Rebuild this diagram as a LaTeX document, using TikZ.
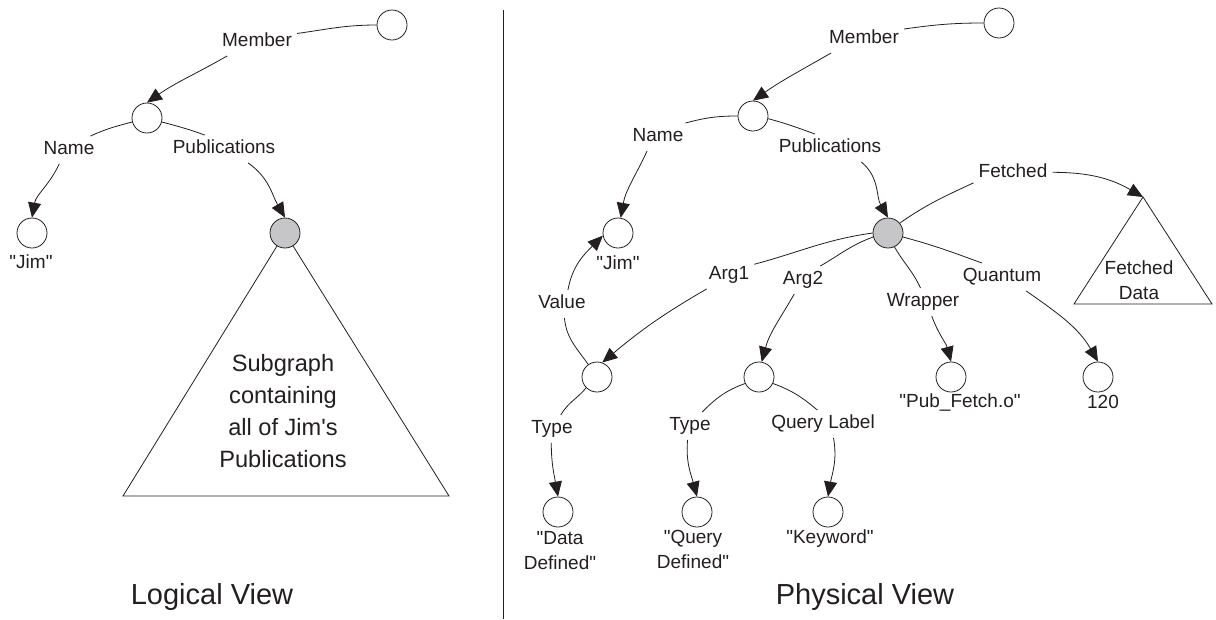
\documentclass[tikz,border=0pt]{standalone}
\usepackage{fontspec}
\newfontfamily\labfont{Liberation Sans}
\usetikzlibrary{arrows.meta}
\definecolor{ink}{RGB}{35,31,32}
\definecolor{shade}{RGB}{198,198,200}
\begin{document}
\begin{tikzpicture}[x=1pt,y=1pt,
  every node/.style={text=ink},
  vertex/.style={circle,draw=ink,line width=0.8pt,minimum size=30pt,inner sep=0pt,fill=white},
  hub/.style={vertex,fill=shade},
  lbl/.style={font=\labfont\fontsize{19}{22}\selectfont,inner sep=5pt,text height=13.5pt,text depth=4pt},
  val/.style={font=\labfont\fontsize{19}{25}\selectfont,align=center,inner sep=0pt},
  big/.style={font=\labfont\fontsize{23.6}{32}\selectfont,align=center,inner sep=0pt},
  title/.style={font=\labfont\fontsize{29}{34}\selectfont,inner sep=0pt},
  wire/.style={draw=ink,line width=0.8pt},
  arr/.style={wire,-{Triangle[length=15pt,width=13pt]}},
]
\useasboundingbox[fill=white] (0,-619) rectangle (1216,0);

% divider between the two views
\coordinate (divTop) at (503,-10);
\coordinate (divBot) at (503,-619);
\draw[wire] (divTop) -- (divBot);

% ---------------- logical view ----------------
\coordinate (subTop) at (285,-233);
\draw[wire,line join=miter] (subTop) -- (123,-496) -- (449,-496) -- cycle;
\node[big] (subtxt) at (283,-411) {Subgraph\\containing\\all of Jim's\\Publications};

\node[vertex] (rootL) at (392,-25) {};
\node[vertex] (midL) at (147,-118) {};
\node[vertex] (jimL) at (32,-233) {};
\node[hub] (grayL) at (285,-233) {};

\node[lbl] (memL) at (257,-42) {Member};
\node[lbl] (nameL) at (69,-150) {Name};
\node[lbl] (pubL) at (224,-149) {Publications};
\node[val] (jimLt) at (31,-262) {"Jim"};

\draw[wire] (rootL.west) to[out=180,in=8] (memL.12);
\draw[arr] (memL.205) to[out=210,in=35] (midL.north);
\draw[wire] (midL.195) to[out=195,in=25] (nameL.33);
\draw[arr] (nameL.235) to[out=245,in=80] (jimL.north);
\draw[wire] (midL.-15) to[out=-15,in=160] (pubL.144);
\draw[arr] (pubL.-30) to[out=-35,in=120] (grayL.north);

\node[title] (logt) at (212,-597) {Logical View};

% ---------------- physical view ----------------
\coordinate (fapex) at (1143,-197);
\draw[wire,line join=miter] (fapex) -- (1074,-304) -- (1212,-304) -- cycle;
\node[val] (fettxt) at (1139,-280) {Fetched\\Data};

\node[vertex] (rootR) at (999,-23) {};
\node[vertex] (midR) at (753,-116) {};
\node[vertex] (jimR) at (618,-233) {};
\node[hub] (grayR) at (888,-233) {};
\node[vertex] (a1n) at (597,-377) {};
\node[vertex] (a2n) at (759,-377) {};
\node[vertex] (pubN) at (951,-377) {};
\node[vertex] (numN) at (1098,-377) {};
\node[vertex] (dataN) at (558,-512) {};
\node[vertex] (qdN) at (697,-512) {};
\node[vertex] (kwN) at (828,-512) {};

\node[lbl] (memR) at (864,-39) {Member};
\node[lbl] (nameR) at (658,-137) {Name};
\node[lbl] (pubR) at (830,-148) {Publications};
\node[lbl] (fetL) at (1013,-173) {Fetched};
\node[lbl] (a1L) at (729,-275) {Arg1};
\node[lbl] (a2L) at (803,-280) {Arg2};
\node[lbl] (wrL) at (923,-302) {Wrapper};
\node[lbl] (quL) at (1002,-277) {Quantum};
\node[lbl] (vaL) at (562,-304) {Value};
\node[lbl] (ty1L) at (552,-429) {Type};
\node[lbl] (ty2L) at (690,-426) {Type};
\node[lbl] (qlL) at (823,-424) {Query Label};

\node[val] (jimRt) at (618,-263) {"Jim"};
\node[val] (datat) at (560,-551) {"Data\\Defined"};
\node[val] (qdt) at (693,-549) {"Query\\Defined"};
\node[val] (kwt) at (830,-539) {"Keyword"};
\node[val] (pubt) at (960,-402) {"Pub\_Fetch.o"};
\node[val] (numt) at (1103,-402) {120};

\draw[wire] (rootR.west) to[out=180,in=8] (memR.14);
\draw[arr] (memR.203) to[out=210,in=35] (midR.north);
\draw[wire] (midR.west) to[out=180,in=15] (nameR.27);
\draw[arr] (nameR.232) to[out=245,in=80] (jimR.80);
\draw[wire] (midR.-10) to[out=-15,in=160] (pubR.137);
\draw[arr] (pubR.-24) to[out=-40,in=120] (grayR.north);

\draw[wire] (grayR.40) to[out=35,in=205] (fetL.194);
\draw[arr] (fetL.1) to[out=0,in=150] (fapex);
\draw[wire] (grayR.-15) to[out=-15,in=160] (quL.145);
\draw[arr] (quL.-30) to[out=-35,in=120] (numN.north);
\draw[wire] (grayR.-65) to[out=-60,in=115] (wrL.100);
\draw[arr] (wrL.-58) to[out=-70,in=105] (pubN.north);
\draw[wire] (grayR.180) to[out=188,in=15] (a1L.23);
\draw[arr] (a1L.212) to[out=210,in=40] (a1n.70);
\draw[wire] (grayR.195) to[out=200,in=30] (a2L.39);
\draw[arr] (a2L.238) to[out=240,in=75] (a2n.80);

\draw[wire] (a1n.125) to[out=125,in=-85] (vaL.-80);
\draw[arr] (vaL.67) to[out=80,in=225] (jimR.190);
\draw[wire] (a1n.225) to[out=230,in=60] (ty1L.58);
\draw[arr] (ty1L.-93) to[out=-90,in=100] (dataN.north);
\draw[wire] (a2n.205) to[out=200,in=45] (ty2L.49);
\draw[arr] (ty2L.-100) to[out=-95,in=105] (qdN.north);
\draw[wire] (a2n.-25) to[out=-20,in=140] (qlL.112);
\draw[arr] (qlL.-53) to[out=-80,in=80] (kwN.north);

\node[title] (phyt) at (865,-597) {Physical View};
\end{tikzpicture}
\end{document}
